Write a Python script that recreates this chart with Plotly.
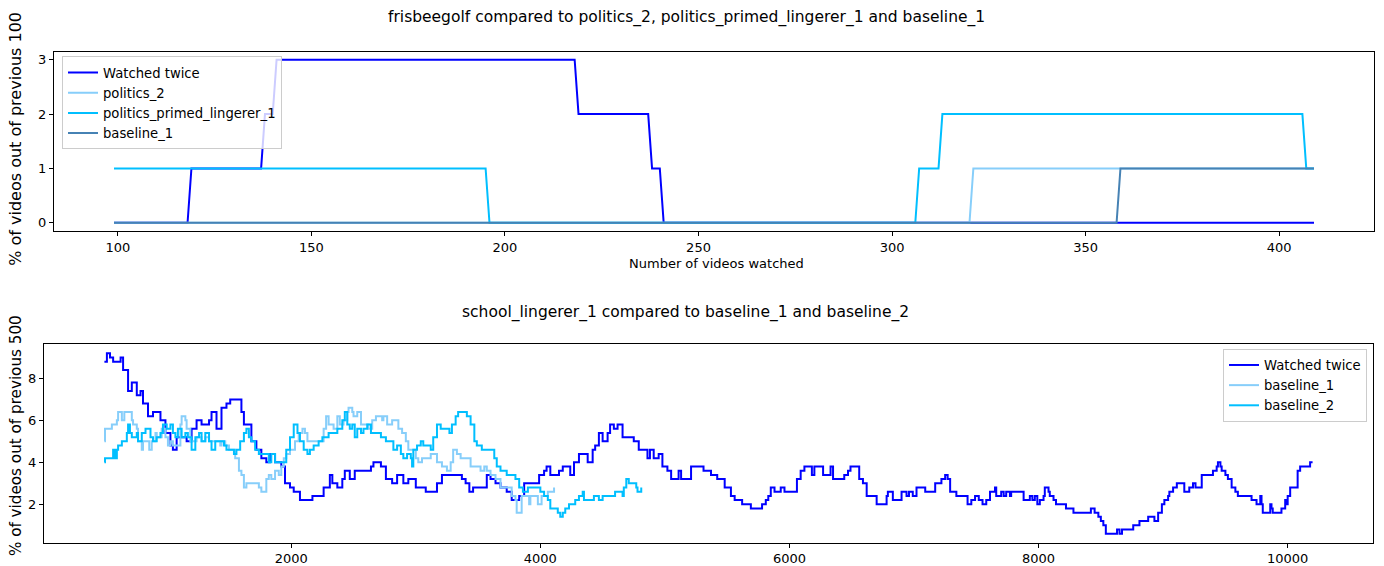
import plotly.graph_objects as go

# ---- frisbeegolf panel: rolling count over the previous 100 videos (breakpoints) ----
fg_watched_x = [99, 118, 119, 137, 138, 140, 141, 218, 219, 237, 238, 240, 241, 409]
fg_watched_y = [0, 0, 1, 1, 2, 2, 3, 3, 2, 2, 1, 1, 0, 0]
fg_politics2_x = [99, 320, 321, 409]
fg_politics2_y = [0, 0, 1, 1]
fg_primed_x = [99, 195, 196, 306, 307, 312, 313, 406, 407, 409]
fg_primed_y = [1, 1, 0, 0, 1, 1, 2, 2, 1, 1]
fg_baseline1_x = [99, 358, 359, 409]
fg_baseline1_y = [0, 0, 1, 1]

# ---- school_lingerer_1 panel: % over the previous 500 videos ----
sl_watched = [
    (500, 8.8), (520, 9.2), (545, 9.0), (570, 8.8), (600, 8.8), (630, 9.0), (650, 8.4), (690, 7.4),
    (720, 7.8), (760, 7.2), (790, 7.4), (810, 6.8), (850, 6.2), (890, 6.4), (920, 6.4), (950, 6.0),
    (990, 5.4), (1030, 4.8), (1050, 4.6), (1080, 5.2), (1120, 5.2), (1160, 5.0), (1200, 5.6), (1240, 6.0),
    (1280, 5.8), (1340, 6.0), (1360, 6.4), (1400, 5.6), (1440, 6.6), (1480, 6.8), (1510, 7.0), (1580, 7.0),
    (1600, 6.4), (1620, 5.8), (1660, 5.8), (1680, 5.0), (1720, 4.6), (1760, 4.2), (1800, 4.0), (1830, 4.4),
    (1870, 4.0), (1920, 3.8), (1950, 3.0), (1990, 2.8), (2020, 2.6), (2070, 2.2), (2170, 2.4), (2250, 2.4),
    (2260, 2.8), (2310, 3.4), (2330, 3.0), (2370, 2.8), (2410, 3.2), (2430, 3.6), (2470, 3.2), (2510, 3.6),
    (2600, 3.6), (2640, 3.8), (2660, 4.0), (2720, 3.8), (2760, 3.2), (2810, 3.0), (2850, 3.4), (2900, 3.0),
    (2940, 3.2), (3000, 2.8), (3050, 2.8), (3080, 2.6), (3130, 2.6), (3170, 3.0), (3210, 3.4), (3250, 3.4),
    (3300, 3.4), (3370, 3.2), (3400, 3.0), (3430, 2.6), (3460, 2.8), (3550, 2.8), (3570, 3.4), (3600, 3.2),
    (3640, 3.0), (3680, 2.8), (3730, 2.6), (3770, 2.2), (3830, 2.4), (3870, 3.0), (3960, 3.0), (3990, 3.4),
    (4030, 3.6), (4050, 3.8), (4080, 3.4), (4150, 3.6), (4180, 3.8), (4220, 3.8), (4240, 3.4), (4270, 4.0),
    (4310, 4.4), (4360, 4.4), (4380, 4.0), (4420, 4.6), (4440, 4.8), (4470, 5.4), (4500, 5.0), (4540, 5.4),
    (4560, 5.8), (4590, 5.6), (4620, 5.8), (4650, 5.8), (4660, 5.2), (4730, 5.2), (4750, 5.0), (4790, 4.6),
    (4830, 4.6), (4860, 4.2), (4880, 4.6), (4910, 4.2), (4950, 4.4), (4980, 3.8), (5020, 3.6), (5050, 3.2),
    (5090, 3.2), (5110, 3.6), (5130, 3.2), (5180, 3.2), (5210, 3.8), (5260, 3.8), (5310, 3.6), (5370, 3.4),
    (5400, 3.4), (5420, 3.2), (5480, 2.8), (5530, 2.4), (5560, 2.2), (5620, 2.0), (5690, 1.8), (5760, 1.8),
    (5780, 2.0), (5810, 2.2), (5830, 2.4), (5850, 2.8), (5880, 2.6), (5900, 2.6), (5930, 2.8), (5960, 2.6),
    (6040, 2.6), (6060, 3.2), (6090, 3.6), (6120, 3.8), (6160, 3.8), (6180, 3.4), (6200, 3.8), (6250, 3.8),
    (6270, 3.4), (6310, 3.4), (6330, 3.8), (6350, 3.2), (6410, 3.2), (6440, 3.4), (6470, 3.6), (6490, 3.8),
    (6540, 3.8), (6560, 3.2), (6590, 3.0), (6620, 2.4), (6680, 2.4), (6700, 2.0), (6740, 2.0), (6780, 2.4),
    (6790, 2.6), (6820, 2.6), (6830, 2.2), (6880, 2.2), (6900, 2.6), (6940, 2.4), (6960, 2.6), (6990, 2.4),
    (7020, 2.8), (7070, 2.8), (7090, 2.6), (7150, 2.6), (7170, 3.0), (7210, 3.0), (7220, 3.2), (7250, 3.4),
    (7270, 3.2), (7290, 2.6), (7330, 2.6), (7340, 2.4), (7420, 2.4), (7430, 2.0), (7460, 2.2), (7490, 2.4),
    (7520, 2.2), (7550, 2.0), (7580, 2.2), (7610, 2.6), (7640, 2.6), (7650, 2.8), (7660, 2.4), (7700, 2.6),
    (7720, 2.4), (7740, 2.6), (7770, 2.4), (7780, 2.6), (7860, 2.6), (7880, 2.2), (7920, 2.2), (7930, 2.4),
    (7950, 2.2), (7970, 2.4), (7990, 2.0), (8010, 2.2), (8040, 2.4), (8050, 2.8), (8080, 2.6), (8090, 2.4),
    (8120, 2.2), (8140, 2.0), (8200, 2.0), (8220, 1.8), (8280, 1.6), (8410, 1.6), (8420, 1.8), (8450, 1.6),
    (8480, 1.4), (8500, 1.2), (8520, 1.0), (8540, 0.6), (8610, 0.6), (8630, 0.8), (8650, 0.6), (8670, 0.8),
    (8750, 0.8), (8760, 1.0), (8800, 1.0), (8810, 1.2), (8870, 1.2), (8880, 1.4), (8920, 1.4), (8930, 1.2),
    (8950, 1.2), (8960, 1.6), (8990, 2.0), (9010, 2.2), (9040, 2.4), (9050, 2.6), (9080, 2.8), (9110, 3.0),
    (9160, 3.0), (9170, 2.6), (9200, 2.6), (9210, 2.8), (9240, 3.0), (9260, 2.8), (9290, 2.8), (9310, 3.4),
    (9380, 3.4), (9400, 3.6), (9430, 3.8), (9440, 4.0), (9460, 3.8), (9470, 3.6), (9500, 3.4), (9520, 3.2),
    (9550, 2.8), (9580, 2.6), (9600, 2.4), (9680, 2.4), (9710, 2.2), (9750, 2.0), (9780, 2.4), (9790, 2.0),
    (9800, 1.6), (9830, 1.6), (9860, 2.0), (9870, 1.8), (9880, 1.6), (9940, 1.6), (9950, 1.8), (9980, 2.2),
    (9990, 2.0), (10000, 2.4), (10020, 2.8), (10060, 2.8), (10080, 3.6), (10100, 3.8), (10170, 3.8),
    (10180, 4.0), (10200, 4.0),
]
sl_baseline1 = [
    (500, 5.0), (505, 5.6), (530, 5.6), (560, 5.8), (600, 6.0), (610, 6.4), (640, 6.0), (660, 6.4),
    (710, 6.4), (720, 6.0), (730, 5.8), (760, 5.6), (770, 5.0), (800, 4.6), (810, 5.0), (850, 5.0),
    (860, 4.6), (880, 5.0), (910, 5.4), (920, 5.2), (950, 5.2), (960, 5.6), (990, 5.2), (1010, 4.8),
    (1030, 5.0), (1050, 4.8), (1080, 4.8), (1110, 5.8), (1120, 6.2), (1150, 6.0), (1160, 5.6), (1190, 5.0),
    (1230, 5.0), (1240, 5.2), (1280, 5.0), (1310, 5.2), (1340, 5.0), (1400, 5.0), (1430, 4.8), (1440, 5.0),
    (1470, 4.8), (1500, 4.6), (1540, 4.6), (1550, 4.2), (1580, 3.6), (1600, 3.4), (1620, 2.8), (1640, 3.0),
    (1710, 3.0), (1740, 2.8), (1760, 2.6), (1790, 2.6), (1800, 3.2), (1820, 3.4), (1840, 3.2), (1870, 3.6),
    (1900, 3.4), (1920, 3.8), (1940, 4.2), (1960, 4.4), (1990, 4.6), (2030, 5.0), (2060, 5.4), (2090, 5.6),
    (2110, 5.4), (2130, 5.0), (2220, 5.0), (2260, 5.6), (2280, 6.2), (2300, 5.8), (2340, 5.6), (2370, 6.2),
    (2390, 5.8), (2420, 6.0), (2450, 6.4), (2460, 6.6), (2490, 6.4), (2500, 6.2), (2530, 6.4), (2560, 5.8),
    (2600, 5.8), (2620, 5.6), (2650, 6.0), (2680, 6.2), (2720, 6.2), (2730, 6.0), (2740, 6.2), (2770, 5.8),
    (2800, 5.8), (2810, 6.0), (2840, 6.0), (2860, 5.6), (2890, 5.4), (2920, 5.0), (2940, 4.6), (2980, 4.6),
    (3000, 4.2), (3020, 4.0), (3050, 4.2), (3080, 4.2), (3120, 4.4), (3140, 4.4), (3170, 4.0), (3210, 3.8),
    (3250, 3.6), (3280, 4.0), (3300, 4.6), (3330, 4.4), (3360, 4.2), (3410, 4.2), (3440, 3.8), (3490, 3.8),
    (3520, 3.6), (3550, 3.8), (3570, 3.6), (3600, 3.4), (3640, 3.2), (3680, 2.8), (3730, 2.8), (3770, 2.4),
    (3800, 2.2), (3810, 1.6), (3840, 1.6), (3850, 2.4), (3880, 2.4), (3910, 2.0), (3920, 2.4), (3960, 2.4),
    (3980, 2.0), (4010, 2.4), (4040, 2.4), (4060, 2.6), (4080, 2.6), (4110, 2.8),
]
sl_baseline2 = [
    (500, 4.0), (505, 4.2), (540, 4.2), (570, 4.6), (585, 4.2), (600, 4.6), (610, 4.8), (640, 5.0),
    (665, 5.0), (680, 5.4), (690, 5.8), (705, 5.4), (720, 5.2), (745, 5.2), (760, 5.4), (770, 5.0),
    (800, 5.4), (830, 5.6), (850, 5.6), (870, 5.2), (890, 5.0), (920, 5.2), (950, 5.4), (970, 5.8),
    (1000, 5.6), (1030, 5.8), (1050, 5.4), (1070, 5.2), (1090, 5.6), (1120, 5.2), (1150, 5.4), (1170, 5.2),
    (1200, 4.6), (1230, 5.2), (1260, 5.4), (1280, 5.0), (1310, 5.4), (1340, 5.0), (1360, 4.6), (1390, 5.0),
    (1420, 5.0), (1460, 4.8), (1480, 4.6), (1510, 4.6), (1540, 4.4), (1560, 4.6), (1590, 5.0), (1620, 5.4),
    (1640, 5.6), (1660, 5.2), (1680, 5.0), (1710, 4.6), (1740, 4.4), (1800, 4.4), (1820, 4.0), (1840, 4.4),
    (1870, 4.0), (1940, 4.0), (1960, 4.6), (1990, 5.2), (2020, 5.8), (2050, 5.4), (2070, 5.0), (2100, 4.6),
    (2130, 4.4), (2150, 4.6), (2180, 4.8), (2220, 5.0), (2250, 5.2), (2300, 5.4), (2340, 5.4), (2370, 5.6),
    (2390, 5.6), (2410, 6.0), (2430, 6.4), (2450, 5.8), (2470, 5.6), (2490, 5.8), (2510, 5.2), (2530, 5.6),
    (2560, 5.4), (2580, 5.6), (2610, 5.8), (2640, 5.4), (2680, 5.4), (2720, 5.2), (2760, 5.0), (2800, 5.0),
    (2820, 4.6), (2850, 4.8), (2880, 4.4), (2900, 4.2), (2930, 4.4), (2960, 4.2), (2970, 3.8), (2980, 4.6),
    (3010, 4.8), (3040, 5.0), (3060, 4.8), (3090, 4.8), (3120, 4.6), (3140, 5.2), (3170, 5.8), (3200, 5.6),
    (3240, 5.6), (3270, 5.4), (3290, 5.8), (3320, 6.2), (3340, 6.4), (3390, 6.4), (3410, 6.2), (3440, 5.8),
    (3470, 5.0), (3490, 4.8), (3530, 4.6), (3600, 4.6), (3630, 4.2), (3650, 3.8), (3680, 3.6), (3730, 3.4),
    (3770, 3.4), (3800, 3.2), (3830, 2.8), (3860, 2.6), (3900, 2.8), (3970, 2.8), (4000, 2.6), (4030, 2.4),
    (4060, 2.2), (4080, 1.8), (4110, 1.8), (4140, 1.6), (4160, 1.4), (4180, 1.6), (4200, 1.8), (4230, 2.0),
    (4260, 2.0), (4280, 2.2), (4310, 2.4), (4340, 2.6), (4350, 2.2), (4390, 2.2), (4430, 2.4), (4470, 2.2),
    (4500, 2.4), (4570, 2.4), (4600, 2.6), (4640, 2.6), (4660, 2.4), (4670, 2.8), (4690, 3.2), (4710, 3.0),
    (4740, 3.0), (4770, 2.8), (4780, 2.6), (4810, 2.8),
]

top_xticks = [100, 150, 200, 250, 300, 350, 400]
top_yticks = [0, 1, 2, 3]
bottom_xticks = [2000, 4000, 6000, 8000, 10000]
bottom_yticks = [2, 4, 6, 8]

top_series = [
    ("Watched twice", fg_watched_x, fg_watched_y, "#0000ff"),
    ("politics_2", fg_politics2_x, fg_politics2_y, "#87cefa"),
    ("politics_primed_lingerer_1", fg_primed_x, fg_primed_y, "#00bfff"),
    ("baseline_1", fg_baseline1_x, fg_baseline1_y, "#4682b4"),
]
bottom_series = [
    ("Watched twice", sl_watched, "#0000ff"),
    ("baseline_1", sl_baseline1, "#87cefa"),
    ("baseline_2", sl_baseline2, "#00bfff"),
]

FONT = "DejaVu Sans"
W, H = 1384, 566
TICK = 13
LEG = 13.2

fig = go.Figure()
for name, xs, ys, color in top_series:
    fig.add_trace(go.Scatter(x=xs, y=ys, mode="lines", name=name,
                             line=dict(color=color, width=2),
                             xaxis="x", yaxis="y", legend="legend"))
for name, pts, color in bottom_series:
    fig.add_trace(go.Scatter(x=[p[0] for p in pts], y=[p[1] for p in pts], mode="lines", name=name,
                             line=dict(color=color, width=2, shape="hv"),
                             xaxis="x2", yaxis="y2", legend="legend2"))

def px_x(p):
    return p / W

def px_y(p):
    return (H - p) / H

axis_style = dict(showline=True, linecolor="black", linewidth=1, mirror=True,
                  ticks="outside", ticklen=4, tickcolor="black", showgrid=False,
                  zeroline=False, tickfont=dict(family=FONT, size=TICK, color="black"))

legend_style = dict(bgcolor="rgba(255,255,255,0.8)", bordercolor="#cccccc", borderwidth=1,
                    font=dict(family=FONT, size=LEG, color="black"), tracegroupgap=0,
                    itemwidth=30)

fig.update_layout(
    width=W, height=H, autosize=False,
    margin=dict(l=0, r=0, t=0, b=0),
    paper_bgcolor="white", plot_bgcolor="white",
    font=dict(family=FONT, color="black"),
    xaxis=dict(domain=[px_x(54), px_x(1374)], range=[83.5, 424.5],
               tickvals=top_xticks, ticktext=[str(v) for v in top_xticks], anchor="y", **axis_style),
    yaxis=dict(domain=[px_y(233), px_y(52)], range=[-0.15, 3.15],
               tickvals=top_yticks, ticktext=[str(v) for v in top_yticks], anchor="x", **axis_style),
    xaxis2=dict(domain=[px_x(44), px_x(1373)], range=[15, 10685],
                tickvals=bottom_xticks, ticktext=[str(v) for v in bottom_xticks], anchor="y2", **axis_style),
    yaxis2=dict(domain=[px_y(547.5), px_y(347.3)], range=[0.17, 9.63],
                tickvals=bottom_yticks, ticktext=[str(v) for v in bottom_yticks], anchor="x2", **axis_style),
    legend=dict(x=px_x(62), y=px_y(57), xanchor="left", yanchor="top", **legend_style),
    legend2=dict(x=px_x(1367), y=px_y(352), xanchor="right", yanchor="top", **legend_style),
    showlegend=True,
)

annotations = [
    dict(text="frisbeegolf compared to politics_2, politics_primed_lingerer_1 and baseline_1",
         x=px_x(686), y=px_y(18), size=15.5, angle=0),
    dict(text="school_lingerer_1 compared to baseline_1 and baseline_2",
         x=px_x(685), y=px_y(315), size=15.5, angle=0),
    dict(text="Number of videos watched", x=px_x(716), y=px_y(266), size=13, angle=0),
    dict(text="% of videos out of previous 100", x=px_x(16), y=px_y(140), size=16, angle=-90),
    dict(text="% of videos out of previous 500", x=px_x(16), y=px_y(440), size=15.2, angle=-90),
]
for a in annotations:
    fig.add_annotation(text=a["text"], x=a["x"], y=a["y"], xref="paper", yref="paper",
                       xanchor="center", yanchor="middle", showarrow=False, textangle=a["angle"],
                       font=dict(family=FONT, size=a["size"], color="black"))

fig.write_html("out.html")
